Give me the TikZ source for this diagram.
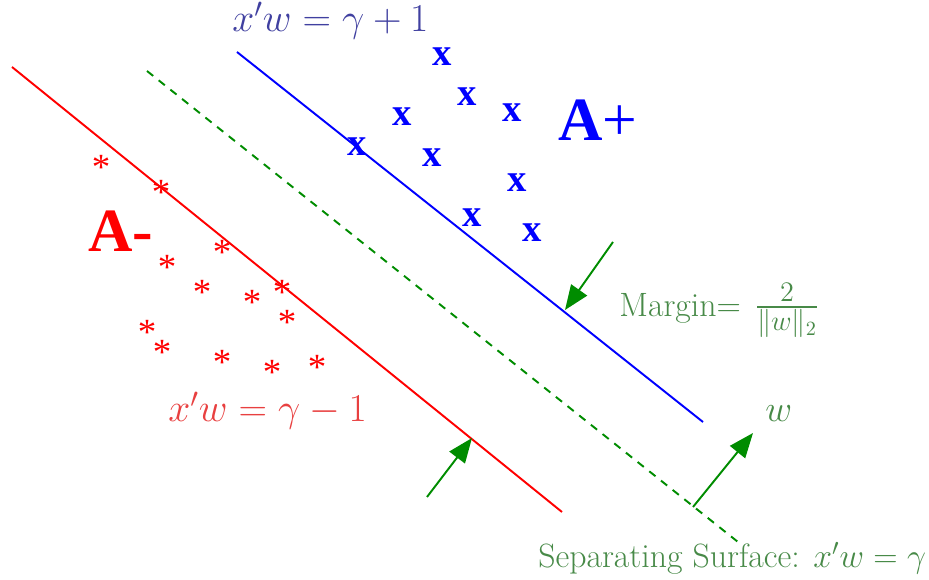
\RequirePackage{fix-cm}
\documentclass[tikz,border=0pt]{standalone}
\usepackage{fontspec}
\usepackage{amsmath}
\usetikzlibrary{arrows.meta}
\newfontfamily\markfont{Liberation Serif}
\definecolor{planeblue}{rgb}{0,0,1}
\definecolor{planered}{rgb}{1,0,0}
\definecolor{planegreen}{rgb}{0,0.55,0}
\definecolor{labelblue}{RGB}{64,64,160}
\definecolor{labelred}{RGB}{232,64,64}
\definecolor{labelgreen}{RGB}{72,138,72}
\tikzset{
  plane/.style={line width=1.1pt},
  surface/.style={line width=1.1pt, draw=planegreen, dash pattern=on 4.5pt off 4pt},
  marginarrow/.style={line width=1.1pt, draw=planegreen, -{Triangle[length=14pt,width=11pt]}},
  xmark/.style={font=\markfont\bfseries\fontsize{22}{24}\selectfont, text=planeblue, anchor=base, yshift=-5pt, inner sep=0pt},
  starmark/.style={font=\markfont\fontsize{21}{24}\selectfont, text=planered, anchor=base, yshift=-9.5pt, inner sep=0pt},
  classlabel/.style={font=\markfont\bfseries\fontsize{35}{40}\selectfont, anchor=base west, inner sep=0pt},
  eqlabel/.style={font=\fontsize{22.5}{25}\selectfont, anchor=base west, inner sep=0pt},
  notelabel/.style={font=\fontsize{19.2}{22}\selectfont, text=labelgreen, anchor=base west, inner sep=0pt},
}

\begin{document}
\begin{tikzpicture}
\useasboundingbox (0,0) rectangle (18.58,11.6);
% planes
\coordinate (redtop) at (0.240,10.260);
\coordinate (redbot) at (11.240,1.360);
\coordinate (bluetop) at (4.740,10.560);
\coordinate (bluebot) at (14.060,3.160);
\coordinate (sepstart) at (2.940,10.180);
\coordinate (sepend) at (14.760,0.760);
\draw[plane, draw=planered] (redtop) -- (redbot);
\draw[plane, draw=planeblue] (bluetop) -- (bluebot);
\draw[surface] (sepstart) -- (sepend);
% points of A+
\foreach \p [count=\i] in {(8.840,10.460),(9.340,9.660),(8.040,9.260),(10.240,9.340),(7.140,8.660),(8.640,8.440),(10.340,7.940),(9.440,7.240),(10.640,6.940)}
  \node[xmark] (plus\i) at \p {x};
% points of A-
\foreach \p [count=\i] in {(2.020,8.340),(3.220,7.840),(4.440,6.640),(3.340,6.340),(4.040,5.840),(5.040,5.640),(5.640,5.840),(5.740,5.240),(2.940,5.040),(3.240,4.640),(4.440,4.440),(5.440,4.240),(6.340,4.340)}
  \node[starmark] (minus\i) at \p {*};
% class names
\node[classlabel, text=planered] (aminus) at (1.760,6.560) {A-};
\node[classlabel, text=planeblue] (aplus) at (11.160,8.780) {A\mdseries+};
% margin arrows
\coordinate (lowfoot) at (8.540,1.660);
\coordinate (lowtip) at (9.440,2.840);
\coordinate (upfoot) at (12.260,6.760);
\coordinate (uptip) at (11.300,5.400);
\coordinate (wfoot) at (13.860,1.460);
\coordinate (wtip) at (15.060,2.940);
\draw[marginarrow] (lowfoot) -- (lowtip);
\draw[marginarrow] (upfoot) -- (uptip);
\draw[marginarrow] (wfoot) -- (wtip);
% labels
\node[eqlabel, text=labelblue] (upeq) at (4.640,10.960) {$x'w=\gamma+1$};
\node[eqlabel, text=labelred] (loweq) at (3.360,3.160) {$x'w=\gamma-1$};
\node[notelabel] (margin) at (12.380,5.260) {Margin$=$\hspace{8pt}{\fontsize{23}{26}\selectfont$\frac{2}{\|w\|_2}$}};
\node[notelabel, font=\fontsize{21}{24}\selectfont] (wlabel) at (15.300,3.160) {$w$};
\node[notelabel] (seplabel) at (10.760,0.240) {Separating Surface: $x'w=\gamma$};
\end{tikzpicture}
\end{document}
